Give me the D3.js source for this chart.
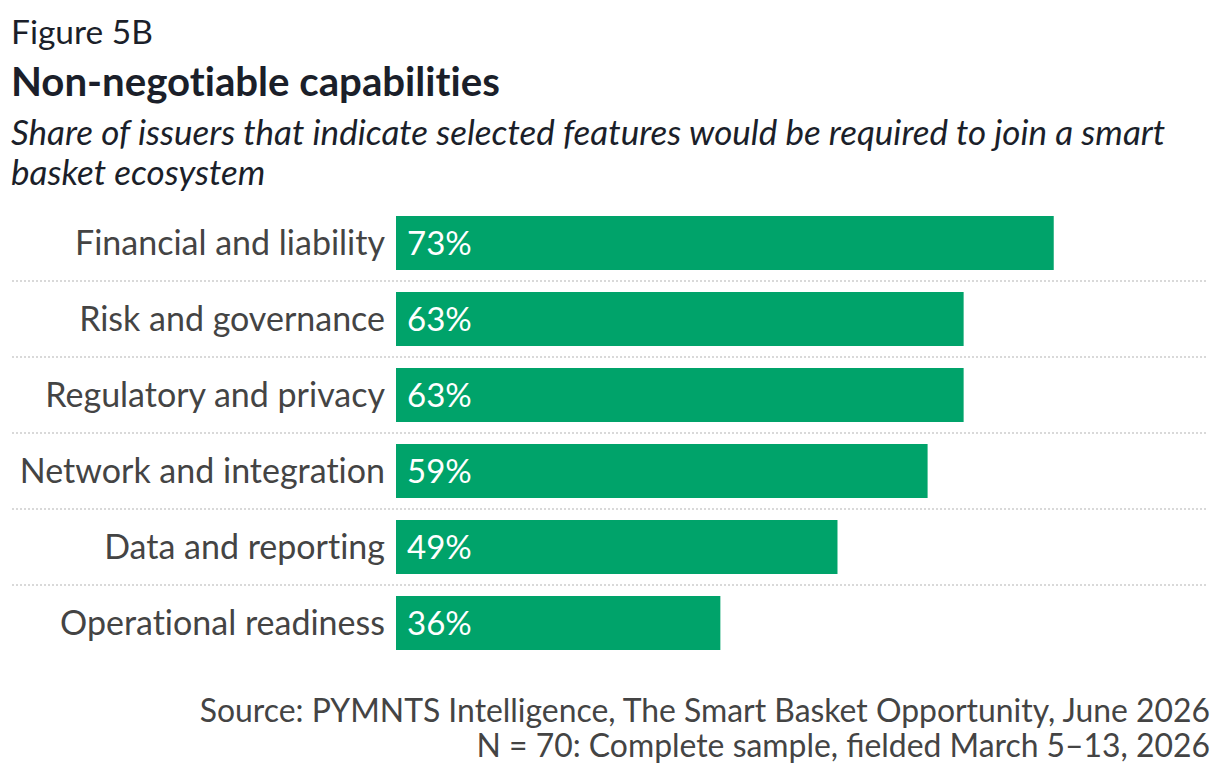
<html>
<head>
<script src="https://d3js.org/d3.v7.min.js"></script>
<style>
  body { margin: 0; background: #fff; }
  text { font-family: Lato, "Open Sans", sans-serif; }
  .noliga { font-variant-ligatures: none; }
</style>
</head>
<body>
<script>
    var width = 1220
    var height = 778

    var categories = ['Financial and liability', 'Risk and governance', 'Regulatory and privacy',
                      'Network and integration', 'Data and reporting', 'Operational readiness']
    var values = [73, 63, 63, 59, 49, 36]
    var valueLabels = ['73%', '63%', '63%', '59%', '49%', '36%']

    var svg = d3.select('body').append('svg').attr('width', width).attr('height', height)

    // header
    svg.append('text').attr('x', 11).attr('y', 44).text('Figure 5B')
        .style('font-size', '33.5px').attr('fill', '#1b1f2a')
    svg.append('text').attr('x', 11).attr('y', 96).text('Non-negotiable capabilities').attr('class', 'noliga')
        .style('font-size', '40.2px').style('font-weight', 700).attr('fill', '#1b1f2a')
    var sub = svg.append('text').attr('y', 145).style('font-size', '35px').attr('class', 'noliga')
        .style('font-style', 'italic').attr('fill', '#1b1f2a')
    sub.append('tspan').attr('x', 11).text('Share of issuers that indicate selected features would be required to join a smart')
    sub.append('tspan').attr('x', 11).attr('dy', 40).text('basket ecosystem')

    var x = d3.scaleLinear().domain([0, 100]).range([396, 1297])
    var y = d3.scaleBand().domain(categories).range([205, 661]).paddingInner(22 / 76).paddingOuter(11 / 76)

    // dotted separators between rows
    var seps = categories.slice(1)
    svg.selectAll('line.sep').data(seps).enter().append('line').attr('class', 'sep')
        .attr('x1', 12).attr('x2', 1208)
        .attr('y1', function(d){return y(d) - y.step() * y.paddingInner() / 2})
        .attr('y2', function(d){return y(d) - y.step() * y.paddingInner() / 2})
        .attr('stroke', '#d9d9d9').attr('stroke-width', 2).attr('stroke-dasharray', '2,2')

    svg.selectAll('rect.bar').data(values).enter().append('rect').attr('class', 'bar')
        .attr('x', x(0))
        .attr('y', function(d, i){return y(categories[i])})
        .attr('width', function(d){return x(d) - x(0)})
        .attr('height', y.bandwidth())
        .attr('fill', '#00a36a')

    svg.selectAll('text.val').data(valueLabels).enter().append('text').attr('class', 'val')
        .attr('x', x(0) + 11)
        .attr('y', function(d, i){return y(categories[i]) + y.bandwidth() / 2 + 12})
        .text(function(d){return d})
        .style('font-size', '33px').attr('fill', '#fff')

    svg.selectAll('text.cat').data(categories).enter().append('text').attr('class', 'cat noliga')
        .attr('x', 385)
        .attr('y', function(d){return y(d) + y.bandwidth() / 2 + 12})
        .attr('text-anchor', 'end')
        .text(function(d){return d})
        .style('font-size', '34px').attr('fill', '#444')

    // footer
    svg.append('text').attr('x', 1210).attr('y', 722).attr('text-anchor', 'end')
        .text('Source: PYMNTS Intelligence, The Smart Basket Opportunity, June 2026')
        .style('font-size', '31.9px').attr('fill', '#444')
    svg.append('text').attr('x', 1210).attr('y', 757).attr('text-anchor', 'end')
        .text('N = 70: Complete sample, fielded March 5\u201313, 2026')
        .style('font-size', '31.9px').attr('fill', '#444')
</script>
</body>
</html>
